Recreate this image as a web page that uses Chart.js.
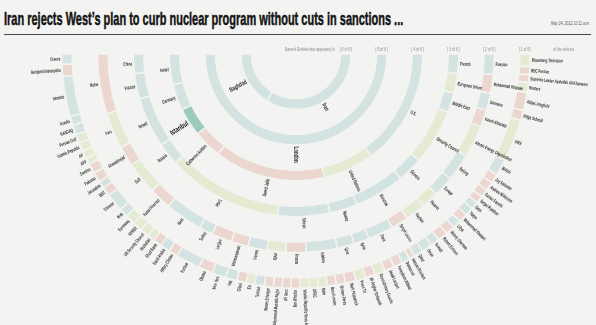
<!DOCTYPE html>
<html>
<head>
<meta charset="utf-8">
<script src="https://cdn.jsdelivr.net/npm/chart.js@4.4.1/dist/chart.umd.min.js"></script>
<style>
  html, body { margin: 0; padding: 0; background: #f3f3f1; }
  #wrap { position: relative; width: 596px; height: 325px; overflow: hidden; background: #f3f3f1; }
  #title { position: absolute; left: 4px; top: 8px; font: bold 19px "Liberation Sans", Arial, sans-serif;
           color: #141414; white-space: nowrap; transform-origin: 0 0; -webkit-text-stroke: 0.5px #141414; }
  #date { position: absolute; top: 20px; font: 5px "Liberation Sans", sans-serif; color: #555;
          white-space: nowrap; transform-origin: 0 0; }
  #rule { position: absolute; left: 4px; width: 587px; top: 34px; height: 0; border-top: 1.5px solid #4a4a4a; }
  #c { position: absolute; left: 0; top: 0; }
</style>
</head>
<body>
<div id="wrap">
  <div id="title">Iran rejects West’s plan to curb nuclear program without cuts in sanctions ...</div>
  <div id="date">May 24, 2012 10:11 a.m.</div>
  <div id="rule"></div>
  <canvas id="c" width="596" height="325"></canvas>
</div>
<script>
// Named entities, grouped by how many of the articles mention them.
// Each ring lists its entities from the left end of the arc to the right end.
// Types: L = location, P = person, O = organisation, H = highlighted.

const ring1Labels = ['Baghdad', 'Iran'];
const ring1Values = [58, 122];
const ring1Types  = ['L', 'L'];

const ring2Labels = ['London'];
const ring2Values = [180];
const ring2Types  = ['L'];

const ring3Labels = ['Israel', 'Germany', 'Istanbul', 'Catherine Ashton', 'Saeed Jalili', 'United Nations', 'U.S.'];
const ring3Values = [14, 12, 13, 13, 51, 23.5, 53.5];
const ring3Types  = ['L', 'L', 'H', 'P', 'P', 'O', 'L'];

const ring4Labels = ['China', 'France', 'Israeli', 'Russia', 'P5+1', 'Tehran', 'Natanz', 'Moscow', 'Geneva',
                     'Security Council', 'Middle East', 'European Union', 'French'];
const ring4Values = [7, 9, 18, 8, 41.4, 18.6, 10, 18, 9, 20, 7, 7, 7];
const ring4Types  = ['L', 'L', 'L', 'L', 'O', 'L', 'L', 'L', 'L', 'O', 'L', 'O', 'L'];

const ring5Labels = ['Mofaz', 'Fars', 'Ahmadinejad', 'Gulf', 'Kamal Kharrazi', 'West', 'Turkey', 'Larijani',
                     'Mehmanparast', 'Vienna', 'ISNA', 'Amano', 'Isfahan', 'Qom', 'Syria', 'Paris', 'Sergei Lavrov',
                     'Kayhan', 'Haaretz', 'Europe', 'Beijing', 'Atomic Energy Organization', 'Kaveh Afrasiabi',
                     'Germans', 'Mohammad Khazaee', 'Russian'];
const ring5Values = [17.5, 10.6, 5.9, 9.5, 6.5, 11, 4, 6, 5, 5.5, 5.5, 6, 9, 5, 4.5, 7.5, 5, 6, 5, 6, 8, 9.5, 5, 5, 5.5, 6];
const ring5Types  = ['P', 'O', 'P', 'O', 'P', 'L', 'L', 'P', 'P', 'L', 'O', 'P', 'L', 'L', 'L', 'L', 'P', 'O', 'O',
                     'L', 'L', 'O', 'P', 'L', 'P', 'L'];

const ring6Labels = ['Greece', 'Benjamin Netanyahu', 'Iranians', 'Israelis', 'NASDAQ', 'Persian Gulf',
                     'Islamic Republic', 'AP', 'AFP', 'Sweden', 'Pakistan', 'Jerusalem', 'BBC', 'Chinese', 'Arak',
                     'Euronews', 'NYMEX', 'UN Security Council', 'Hezbollah', 'Ehud Barak', 'Saudi Arabia',
                     'Hillary Clinton', 'Fordow', 'Obama', 'New York', 'Iraq', 'Gilani', 'EU', 'Turkish',
                     'Steven Erlanger', 'Mohammad Mustafa Najjar', 'Ali Vaez', 'Ben Rhodes',
                     'Islamic Republic News Agency', 'OPEC', 'Mehr', 'Ban Ki-moon', 'Shimon Peres',
                     'Mark Fitzpatrick', 'Press TV', 'Ali Asghar Soltanieh', 'Revolutionary Guards',
                     'Javad Larijani', 'Fereydoun Abbasi', 'Damascus', 'Hassan Rouhani', 'Qatar', 'Oman', 'Kuwait',
                     'Robert Einhorn', 'Wendy Sherman', 'Libya', 'Mohammad Khatami', 'Tokyo', 'Gaza',
                     'Sergei Ryabkov', 'Farnaz Fassihi', 'Andrew Wilkinson', 'Jay Solomon', 'British', 'IAEA',
                     'Helga Schmid', 'Abbas Araghchi', 'Reuters', 'Supreme Leader Ayatollah Ali Khamenei',
                     'BBC Persian', 'Bloomberg Television'];
const ring6Values = [2.5, 3, 10, 2.2, 2.4, 2.2, 2.1, 2, 1.6, 2.5, 2.5, 1.8, 2.2, 4.5, 2.2, 2.5, 2.4, 2.2, 1.8, 2.2,
                     2.4, 2.3, 6, 3.5, 3.5, 2.8, 2.4, 2.1, 2.4, 2.2, 2.2, 2.1, 2.3, 2.3, 2.2, 2.2, 2.2, 2.3, 2.6,
                     2.5, 2.4, 2.6, 2.4, 2.3, 2, 1.4, 2.3, 2.6, 2.2, 2.5, 2.3, 2.1, 2.2, 2.1, 1.9, 1.8, 2.1, 2.2,
                     2.3, 4, 10.5, 2.5, 4.5, 2.5, 1.9, 2, 3.1];
const ring6Types  = ['L', 'P', 'L', 'L', 'L', 'O', 'O', 'O', 'O', 'P', 'P', 'L', 'P', 'L', 'L', 'O', 'O', 'O', 'O',
                     'P', 'L', 'P', 'L', 'P', 'L', 'L', 'P', 'O', 'L', 'P', 'P', 'P', 'P', 'O', 'O', 'O', 'P', 'P',
                     'P', 'O', 'P', 'O', 'P', 'P', 'L', 'P', 'L', 'L', 'L', 'P', 'P', 'L', 'P', 'L', 'L', 'P', 'P',
                     'P', 'P', 'L', 'O', 'P', 'P', 'O', 'P', 'P', 'O'];

// Ring captions, innermost first
const ringCaptions = ['[ 6 of 6 ]', '[ 5 of 6 ]', '[ 4 of 6 ]', '[ 3 of 6 ]', '[ 2 of 6 ]', '[ 1 of 6 ]'];

const TYPE_COLORS = { L: '#d3e3e1', P: '#ecd7d0', O: '#e5ead2', H: '#9ccabd' };
const BG = '#f3f3f1';

// ---- geometry of the rings (pixels) ----
const CENTER_X = 296, CENTER_Y = 54;
const INNER_EDGE = 44.75;     // inner edge of the innermost ring
const RING_W = 10.5;          // ring thickness incl. the separator stroke
const GAP_W = 25.3;           // empty band between rings
const BORDER = 1.5;

const ringsInner = [
  { labels: ring1Labels, values: ring1Values, types: ring1Types, font: 6.5, squeeze: 0.68 },
  { labels: ring2Labels, values: ring2Values, types: ring2Types, font: 6.5, squeeze: 0.68 },
  { labels: ring3Labels, values: ring3Values, types: ring3Types, font: 5.2, squeeze: 0.62 },
  { labels: ring4Labels, values: ring4Values, types: ring4Types, font: 5.2, squeeze: 0.62 },
  { labels: ring5Labels, values: ring5Values, types: ring5Types, font: 5, squeeze: 0.6 },
  { labels: ring6Labels, values: ring6Values, types: ring6Types, font: 5, squeeze: 0.6 }
];

const OUTER = INNER_EDGE + ringsInner.length * RING_W + (ringsInner.length - 1) * GAP_W;

// Chart.js draws dataset 0 outermost; the doughnut sweeps clockwise from
// 3 o'clock, so each ring is fed right-to-left.
const datasets = [];
const ringDatasetIndex = [];
for (let k = ringsInner.length - 1; k >= 0; k--) {
  const ring = ringsInner[k];
  ringDatasetIndex[k] = datasets.length;
  datasets.push({
    data: ring.values.slice().reverse(),
    segLabels: ring.labels.slice().reverse(),
    segTypes: ring.types.slice().reverse(),
    backgroundColor: ring.types.slice().reverse().map(t => TYPE_COLORS[t]),
    borderColor: BG,
    borderWidth: BORDER,
    weight: RING_W
  });
  if (k > 0) {
    datasets.push({ data: [1], backgroundColor: 'rgba(0,0,0,0)', borderWidth: 0, weight: GAP_W, isGap: true });
  }
}

function drawRadial(ctx, text, cx, cy, angle, r, size, weight, color, squeeze) {
  ctx.save();
  ctx.translate(cx, cy);
  ctx.font = weight + ' ' + size + 'px "Liberation Sans", Arial, sans-serif';
  ctx.fillStyle = color;
  ctx.textBaseline = 'middle';
  if (angle <= Math.PI / 2 + 1e-6) {
    ctx.rotate(angle);
    ctx.scale(squeeze, 1);
    ctx.textAlign = 'left';
    ctx.fillText(text, r / squeeze, 0);
  } else {
    ctx.rotate(angle - Math.PI);
    ctx.scale(squeeze, 1);
    ctx.textAlign = 'right';
    ctx.fillText(text, -r / squeeze, 0);
  }
  ctx.restore();
}

const entityLabels = {
  id: 'entityLabels',
  afterDatasetsDraw(chart) {
    const ctx = chart.ctx;
    const captionPos = [];
    ringsInner.forEach((ring, k) => {
      const di = ringDatasetIndex[k];
      const ds = chart.data.datasets[di];
      const meta = chart.getDatasetMeta(di);
      meta.data.forEach((arc, i) => {
        const p = arc.getProps(['x', 'y', 'startAngle', 'endAngle', 'outerRadius', 'innerRadius'], true);
        const mid = (p.startAngle + p.endAngle) / 2;
        const type = ds.segTypes[i];
        const hi = type === 'H';
        drawRadial(ctx, ds.segLabels[i], p.x, p.y, mid, p.outerRadius + 1.5,
                   hi ? 7.5 : ring.font, 'bold', hi ? '#111' : '#2e2e2e', hi ? 0.7 : ring.squeeze);
      });
      const first = meta.data[0].getProps(['x', 'y', 'outerRadius', 'innerRadius'], true);
      captionPos[k] = { x: first.x + (first.innerRadius + first.outerRadius) / 2, y: first.y - 2 };
    });

    // ring captions along the top edge
    ctx.save();
    ctx.font = '5px "Liberation Sans", Arial, sans-serif';
    ctx.fillStyle = '#8a8a8a';
    ctx.textBaseline = 'bottom';
    ctx.textAlign = 'center';
    ringCaptions.forEach((c, k) => {
      ctx.save();
      ctx.translate(captionPos[k].x, captionPos[k].y);
      ctx.scale(0.7, 1);
      ctx.fillText(c, 0, 0);
      ctx.restore();
    });
    const w0 = ctx.measureText(ringCaptions[0]).width * 0.7;
    ctx.save();
    ctx.translate(captionPos[0].x - w0 / 2 - 5, captionPos[0].y);
    ctx.scale(0.7, 1);
    ctx.textAlign = 'right';
    ctx.fillText('Named Entities that appeared in', 0, 0);
    ctx.restore();
    const w5 = ctx.measureText(ringCaptions[5]).width * 0.7;
    ctx.save();
    ctx.translate(captionPos[5].x + w5 / 2 + 22, captionPos[5].y);
    ctx.scale(0.7, 1);
    ctx.textAlign = 'left';
    ctx.fillText('of the articles', 0, 0);
    ctx.restore();
    ctx.restore();
  }
};

const W = 596, H = 325;
new Chart(document.getElementById('c'), {
  type: 'doughnut',
  data: { datasets },
  options: {
    responsive: false,
    animation: false,
    events: [],
    rotation: 90,
    circumference: 180,
    radius: OUTER,
    cutout: (INNER_EDGE / OUTER * 100) + '%',
    layout: {
      padding: {
        left: 0,
        right: W - 2 * CENTER_X,
        top: 2 * (CENTER_Y + OUTER / 2) - H,
        bottom: 0
      }
    },
    plugins: { legend: { display: false }, tooltip: { enabled: false } }
  },
  plugins: [entityLabels]
});

// condensed headline and timestamp
const title = document.getElementById('title');
title.style.transform = 'scaleX(' + (399 / title.offsetWidth) + ')';
const date = document.getElementById('date');
const ds = 39 / date.offsetWidth;
date.style.transform = 'scaleX(' + ds + ')';
date.style.left = (590 - 39) + 'px';
</script>
</body>
</html>
